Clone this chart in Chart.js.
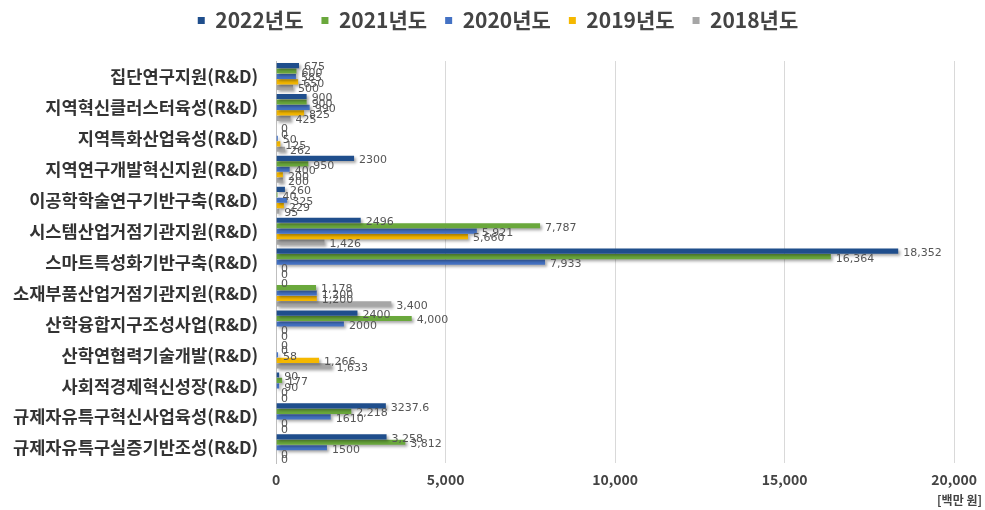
<!DOCTYPE html>
<html>
<head>
<meta charset="utf-8">
<script src="https://cdn.jsdelivr.net/npm/chart.js@4.4.0/dist/chart.umd.min.js"></script>
<style>
  html, body { margin: 0; padding: 0; background: #fff; }
  #wrap { width: 985px; height: 510px; }
</style>
</head>
<body>
<div id="wrap"><canvas id="budget-chart"></canvas></div>
<script>
// 사업명
const categories = [
    "집단연구지원(R&D)",
    "지역혁신클러스터육성(R&D)",
    "지역특화산업육성(R&D)",
    "지역연구개발혁신지원(R&D)",
    "이공학학술연구기반구축(R&D)",
    "시스템산업거점기관지원(R&D)",
    "스마트특성화기반구축(R&D)",
    "소재부품산업거점기관지원(R&D)",
    "산학융합지구조성사업(R&D)",
    "산학연협력기술개발(R&D)",
    "사회적경제혁신성장(R&D)",
    "규제자유특구혁신사업육성(R&D)",
    "규제자유특구실증기반조성(R&D)"
];

const seriesNames = ["2022년도", "2021년도", "2020년도", "2019년도", "2018년도"];

// 백만 원
const y2022 = [675, 900, 0, 2300, 260, 2496, 18352, 0, 2400, 0, 90, 3237.6, 3258];
const y2021 = [600, 900, 0, 950, 40, 7787, 16364, 1178, 4000, 0, 177, 2218, 3812];
const y2020 = [585, 990, 50, 400, 325, 5921, 7933, 1200, 2000, 58, 90, 1610, 1500];
const y2019 = [650, 825, 125, 200, 229, 5660, 0, 1200, 0, 1266, 0, 0, 0];
const y2018 = [500, 425, 262, 200, 95, 1426, 0, 3400, 0, 1633, 0, 0, 0];

const xTicks = [0, 5000, 10000, 15000, 20000];
const unitText = "[백만 원]";

// 원본 표에서 쉼표 없이 표기된 값 (시리즈 번호 -> 행 번호)
const plainLabels = { 0: [3, 5, 8, 11], 2: [8, 11, 12] };

const colors = ["#1f4e8c", "#6aa83c", "#4472c4", "#f5b800", "#a6a6a6"];

const seriesValues = [y2022, y2021, y2020, y2019, y2018];

function fmt(v, ds, i) {
    if (v < 1000) return String(v);
    if ((plainLabels[ds] || []).includes(i)) return String(v);
    return v.toLocaleString("en-US");
}

// 범례 아래 여백
const legendGap = {
    id: "legendGap",
    beforeInit(chart) {
        const fit = chart.legend.fit;
        chart.legend.fit = function () {
            fit.bind(chart.legend)();
            this.height += 20;
        };
    }
};

// 막대 그림자
const shadowPlugin = {
    id: "barShadow",
    beforeDatasetsDraw(chart) {
        const c = chart.ctx;
        c.save();
        c.shadowColor = "rgba(0,0,0,0.35)";
        c.shadowBlur = 3;
        c.shadowOffsetX = 2;
        c.shadowOffsetY = 2;
    },
    afterDatasetsDraw(chart) {
        chart.ctx.restore();
    }
};

// 값 라벨 + 단위
const valueLabels = {
    id: "valueLabels",
    afterDraw(chart) {
        const c = chart.ctx;
        c.save();
        c.font = "11px 'DejaVu Sans', sans-serif";
        c.fillStyle = "#555";
        c.textBaseline = "middle";
        c.textAlign = "left";
        chart.data.datasets.forEach((ds, di) => {
            const meta = chart.getDatasetMeta(di);
            meta.data.forEach((bar, i) => {
                const v = ds.data[i];
                c.fillText(fmt(v, di, i), bar.x + 5, bar.y + 2);
            });
        });
        c.font = "bold 12px 'Noto Sans CJK KR'";
        c.fillStyle = "#444";
        c.textAlign = "right";
        c.fillText(unitText, chart.width - 3, chart.height - 10);
        c.restore();
    }
};

const ctx = document.getElementById("budget-chart").getContext("2d");

new Chart(ctx, {
    type: "bar",
    data: {
        labels: categories,
        datasets: seriesNames.map((name, k) => ({
            label: name,
            data: seriesValues[k],
            backgroundColor: colors[k],
            borderWidth: 0,
            categoryPercentage: 0.88,
            barPercentage: 0.95
        }))
    },
    options: {
        indexAxis: "y",
        responsive: true,
        maintainAspectRatio: false,
        animation: false,
        layout: { padding: { top: -8, right: -8, left: 3, bottom: 14 } },
        plugins: {
            legend: {
                position: "top",
                labels: {
                    usePointStyle: true,
                    pointStyle: "rect",
                    boxWidth: 7,
                    boxHeight: 7,
                    padding: 18,
                    color: "#444",
                    font: { family: "'Noto Sans CJK KR'", size: 21, weight: "bold" }
                }
            },
            tooltip: { enabled: false }
        },
        scales: {
            x: {
                min: 0,
                max: 20000,
                afterBuildTicks: axis => { axis.ticks = xTicks.map(v => ({ value: v })); },
                grid: { color: "#d9d9d9", drawTicks: false },
                border: { display: false },
                ticks: {
                    padding: 8,
                    color: "#444",
                    font: { family: "'Noto Sans CJK KR'", size: 14, weight: "bold" },
                    callback: v => v.toLocaleString("en-US")
                }
            },
            y: {
                grid: { display: false },
                border: { display: true, color: "#bfbfbf" },
                ticks: {
                    color: "#333",
                    padding: 10,
                    font: { family: "'Noto Sans CJK KR'", size: 17.6, weight: "bold" }
                }
            }
        }
    },
    plugins: [legendGap, shadowPlugin, valueLabels]
});
</script>
</body>
</html>
